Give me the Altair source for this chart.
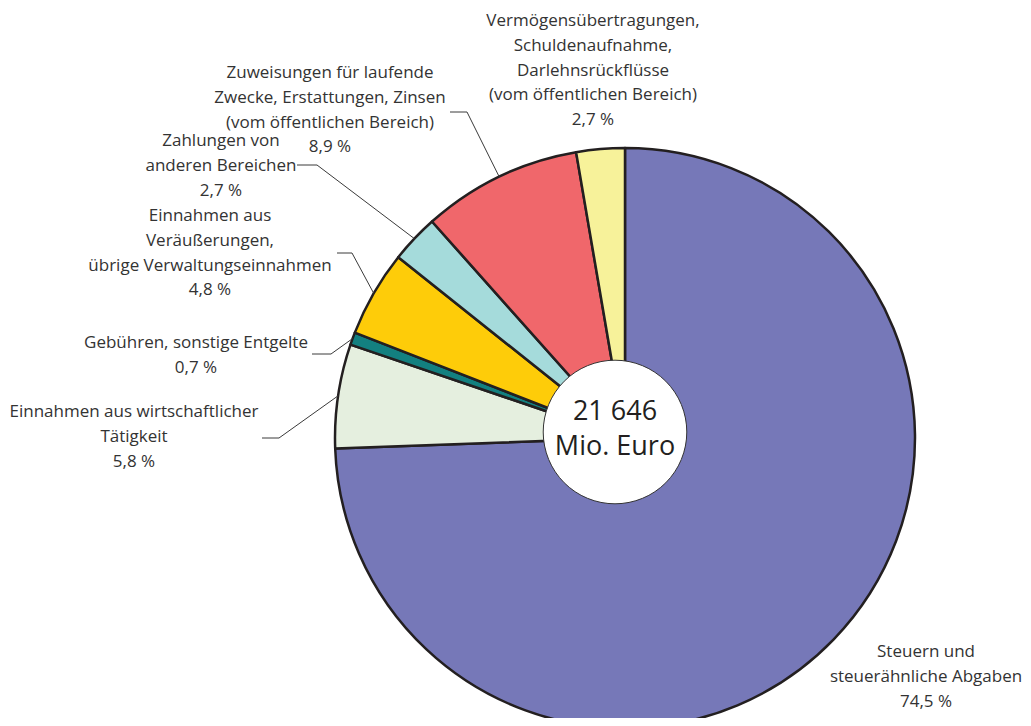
import math
import altair as alt
import pandas as pd

# ---- data ----
categories = [
    "Steuern und steuerähnliche Abgaben",
    "Einnahmen aus wirtschaftlicher Tätigkeit",
    "Gebühren, sonstige Entgelte",
    "Einnahmen aus Veräußerungen, übrige Verwaltungseinnahmen",
    "Zahlungen von anderen Bereichen",
    "Zuweisungen für laufende Zwecke, Erstattungen, Zinsen (vom öffentlichen Bereich)",
    "Vermögensübertragungen, Schuldenaufnahme, Darlehnsrückflüsse (vom öffentlichen Bereich)",
]
values = [74.5, 5.8, 0.7, 4.8, 2.7, 8.9, 2.7]
colors = ["#7678B8", "#E5EFDF", "#138080", "#FECC09", "#A5DBDB", "#F0676B", "#F7F29A"]
label_lines = [
    ["Steuern und", "steuerähnliche Abgaben"],
    ["Einnahmen aus wirtschaftlicher", "Tätigkeit"],
    ["Gebühren, sonstige Entgelte"],
    ["Einnahmen aus", "Veräußerungen,", "übrige Verwaltungseinnahmen"],
    ["Zahlungen von", "anderen Bereichen"],
    ["Zuweisungen für laufende", "Zwecke, Erstattungen, Zinsen", "(vom öffentlichen Bereich)"],
    ["Vermögensübertragungen,", "Schuldenaufnahme,", "Darlehnsrückflüsse", "(vom öffentlichen Bereich)"],
]
total_text = ["21 646", "Mio. Euro"]

# ---- layout (screen pixels) ----
M = 8
W, H = 1031 - 2 * M, 726 - 2 * M
CX, CY, R = 625, 438, 290
HOLE_X, HOLE_Y, HOLE_R = 615, 432, 81
LH = 24.8
FONT = "Open Sans"
TXT = "#333333"
label_pos = [(926, 652), (134, 412), (196, 343), (210, 216), (221, 141), (330, 73), (593, 21)]
# leader: (end_x, elbow_x, y) ; None = no leader
leader_pos = [None, (262, 279, 438), (312, 331, 354), (337, 352, 253), (297, 317, 165), (450, 467, 112), None]

sx = alt.Scale(domain=[M, M + W], range=[0, W], nice=False, zero=False)
sy = alt.Scale(domain=[M, M + H], range=[0, H], nice=False, zero=False)

pie_df = pd.DataFrame({"cat": categories, "value": values, "idx": list(range(len(values)))})

total = sum(values)
text_rows, line_rows = [], []
cum = 0.0
for i, (cat, v) in enumerate(zip(categories, values)):
    mid = (cum + v / 2) / total * 2 * math.pi
    cum += v
    pct = f"{v:.1f}".replace(".", ",") + " %"
    lines = label_lines[i] + [pct]
    lx, ly = label_pos[i]
    for j, t in enumerate(lines):
        text_rows.append({"cat": cat, "x": lx, "y": ly + j * LH, "t": t})
    if leader_pos[i] is not None:
        ex, bx, yy = leader_pos[i]
        px = CX + R * math.sin(mid)
        py = CY - R * math.cos(mid)
        for k, (xx, yv) in enumerate([(ex, yy), (bx, yy), (px, py)]):
            line_rows.append({"cat": cat, "s": k, "x": xx, "y": yv})

text_df = pd.DataFrame(text_rows)
line_df = pd.DataFrame(line_rows)

pie = alt.Chart(pie_df).mark_arc(stroke="#231F20", strokeWidth=2.5, strokeJoin="round").encode(
    theta=alt.Theta("value:Q", stack=True),
    order=alt.Order("idx:Q", sort="ascending"),
    color=alt.Color("cat:N", scale=alt.Scale(domain=categories, range=colors), legend=None),
    x=alt.value(CX - M),
    y=alt.value(CY - M),
    radius=alt.value(R),
)

leaders = alt.Chart(line_df).mark_line(color="#3a3a3a", strokeWidth=1).encode(
    x=alt.X("x:Q", scale=sx, axis=None),
    y=alt.Y("y:Q", scale=sy, axis=None),
    detail="cat:N",
    order="s:Q",
)

labels = alt.Chart(text_df).mark_text(
    font=FONT, fontSize=17, color=TXT, align="center", baseline="middle"
).encode(
    x=alt.X("x:Q", scale=sx, axis=None),
    y=alt.Y("y:Q", scale=sy, axis=None),
    text="t:N",
)

hole = alt.Chart(pd.DataFrame({"a": [1]})).mark_circle(
    fill="white", opacity=1, stroke="#333333", strokeWidth=1
).encode(
    x=alt.value(HOLE_X - M),
    y=alt.value(HOLE_Y - M),
    size=alt.value(math.pi * HOLE_R ** 2),
)

center_df = pd.DataFrame({"t": total_text, "x": [HOLE_X, HOLE_X], "y": [412, 447]})
center = alt.Chart(center_df).mark_text(
    font=FONT, fontSize=27, color="#231F20", align="center", baseline="middle"
).encode(
    x=alt.X("x:Q", scale=sx, axis=None),
    y=alt.Y("y:Q", scale=sy, axis=None),
    text="t:N",
)

chart = alt.layer(pie, leaders, labels, hole, center).properties(
    width=W, height=H, autosize="none", padding=0
).configure_view(stroke=None)

chart.save("out.html", embed_options={"renderer": "svg", "actions": False})
